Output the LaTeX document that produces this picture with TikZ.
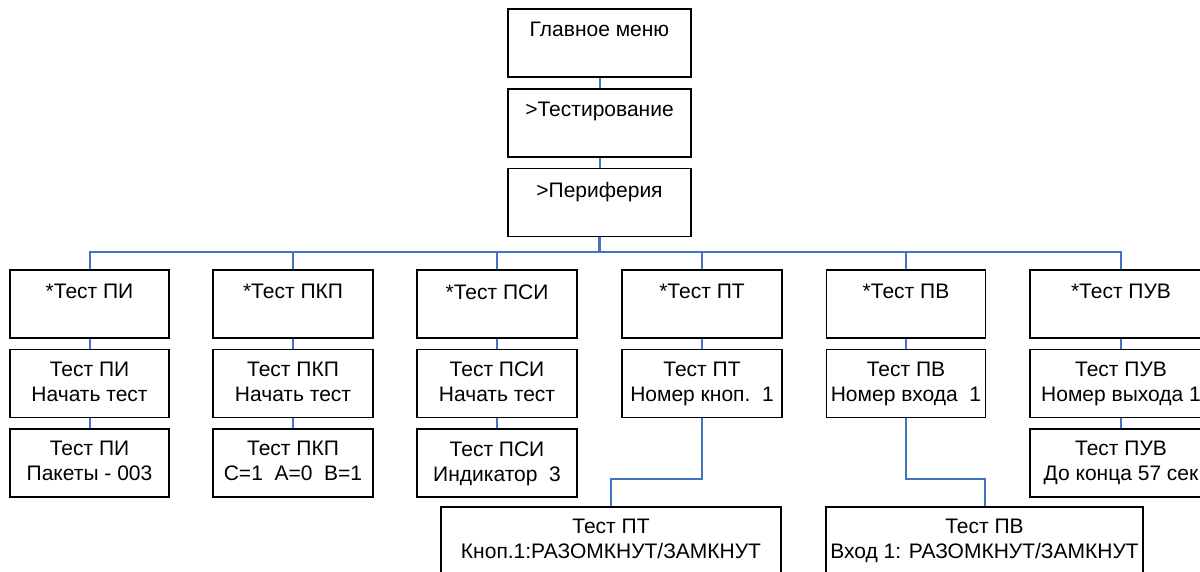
\documentclass[tikz,border=0pt]{standalone}
\usepackage{fontspec}
\setmainfont{Liberation Sans}
\definecolor{conn}{RGB}{68,114,196}
\tikzset{
  box/.style={draw=black, line width=1.6pt, rectangle, inner sep=0pt, minimum height=68pt},
  txt/.style={anchor=north, inner sep=0pt, align=center, font=\fontsize{21}{25}\selectfont},
  link/.style={draw=conn, line width=2pt}
}
\begin{document}
\begin{tikzpicture}[x=1pt,y=-1pt]
\useasboundingbox (0,0) rectangle (1200,571);
\clip (0,0) rectangle (1200,571);
% top column
\node[box, minimum width=183pt] (main) at (599.5,43) {};
\node[txt] at ([yshift=-14pt]main.north) {Главное меню};
\node[box, minimum width=183pt] (test) at (599.5,123) {};
\node[txt] at ([yshift=-14pt]test.north) {>Тестирование};
\node[box, minimum width=183pt] (per) at (599.5,202.5) {};
\node[txt] at ([yshift=-14pt]per.north) {>Периферия};
% row 1
\node[box, minimum width=159pt] (a1) at (89.5,304) {};
\node[txt] at ([yshift=-15pt]a1.north) {*Тест ПИ};
\node[box, minimum width=160pt] (b1) at (293,304) {};
\node[txt] at ([yshift=-15pt]b1.north) {*Тест ПКП};
\node[box, minimum width=160pt] (c1) at (497,304) {};
\node[txt] at ([yshift=-15pt]c1.north) {*Тест ПСИ};
\node[box, minimum width=160pt] (d1) at (702,304) {};
\node[txt] at ([yshift=-15pt]d1.north) {*Тест ПТ};
\node[box, minimum width=159pt] (e1) at (906,304) {};
\node[txt] at ([yshift=-15pt]e1.north) {*Тест ПВ};
\node[box, minimum width=182pt] (f1) at (1121,304) {};
\node[txt] at ([yshift=-15pt]f1.north) {*Тест ПУВ};
% row 2
\node[box, minimum width=159pt] (a2) at (89.5,383.5) {};
\node[txt] at ([yshift=-13pt]a2.north) {Тест ПИ\\Начать тест};
\node[box, minimum width=160pt] (b2) at (293,383.5) {};
\node[txt] at ([yshift=-13pt]b2.north) {Тест ПКП\\Начать тест};
\node[box, minimum width=160pt] (c2) at (497,383.5) {};
\node[txt] at ([yshift=-13pt]c2.north) {Тест ПСИ\\Начать тест};
\node[box, minimum width=160pt] (d2) at (702,383.5) {};
\node[txt] at ([yshift=-13pt]d2.north) {Тест ПТ\\Номер кноп.\ \ 1};
\node[box, minimum width=159pt] (e2) at (906,383.5) {};
\node[txt] at ([yshift=-13pt]e2.north) {Тест ПВ\\Номер входа\ \ 1};
\node[box, minimum width=182pt] (f2) at (1121,383.5) {};
\node[txt] at ([yshift=-13pt]f2.north) {Тест ПУВ\\Номер выхода 1};
% row 3
\node[box, minimum width=159pt] (a3) at (89.5,463) {};
\node[txt] at ([yshift=-13pt]a3.north) {Тест ПИ\\Пакеты - 003};
\node[box, minimum width=160pt] (b3) at (293,463) {};
\node[txt] at ([yshift=-13pt]b3.north) {Тест ПКП\\С=1\ \ А=0\ \ В=1};
\node[box, minimum width=160pt] (c3) at (497,463) {};
\node[txt] at ([yshift=-13pt]c3.north) {Тест ПСИ\\Индикатор\ \ 3};
\node[box, minimum width=182pt] (f3) at (1121,463) {};
\node[txt] at ([yshift=-13pt]f3.north) {Тест ПУВ\\До конца 57 сек};
% bottom
\node[box, minimum width=340pt] (d4) at (611,541) {};
\node[txt] at ([yshift=-13pt]d4.north) {Тест ПТ\\Кноп.1:РАЗОМКНУТ/ЗАМКНУТ};
\node[box, minimum width=317pt] (e4) at (984.5,541) {};
\node[txt] at ([yshift=-13pt]e4.north) {Тест ПВ\\Вход 1: РАЗОМКНУТ/ЗАМКНУТ};
% connectors
\coordinate (bus) at (599.5,252);
\draw[link] (main.south) -- (test.north);
\draw[link] (test.south) -- (per.north);
\draw[link, line width=2.6pt] (per.south) -- (bus);
\foreach \n in {a1,b1,c1,d1,e1,f1} \draw[link] (\n.north) |- (bus);
\foreach \c in {a,b,c,d,e,f} \draw[link] (\c1.south) -- (\c2.north);
\foreach \c in {a,b,c,f} \draw[link] (\c2.south) -- (\c3.north);
\coordinate (jd) at (702,479);
\coordinate (je) at (906,479);
\draw[link] (d2.south) -- (jd) -| (d4.north);
\draw[link] (e2.south) -- (je) -| (e4.north);
\end{tikzpicture}
\end{document}
